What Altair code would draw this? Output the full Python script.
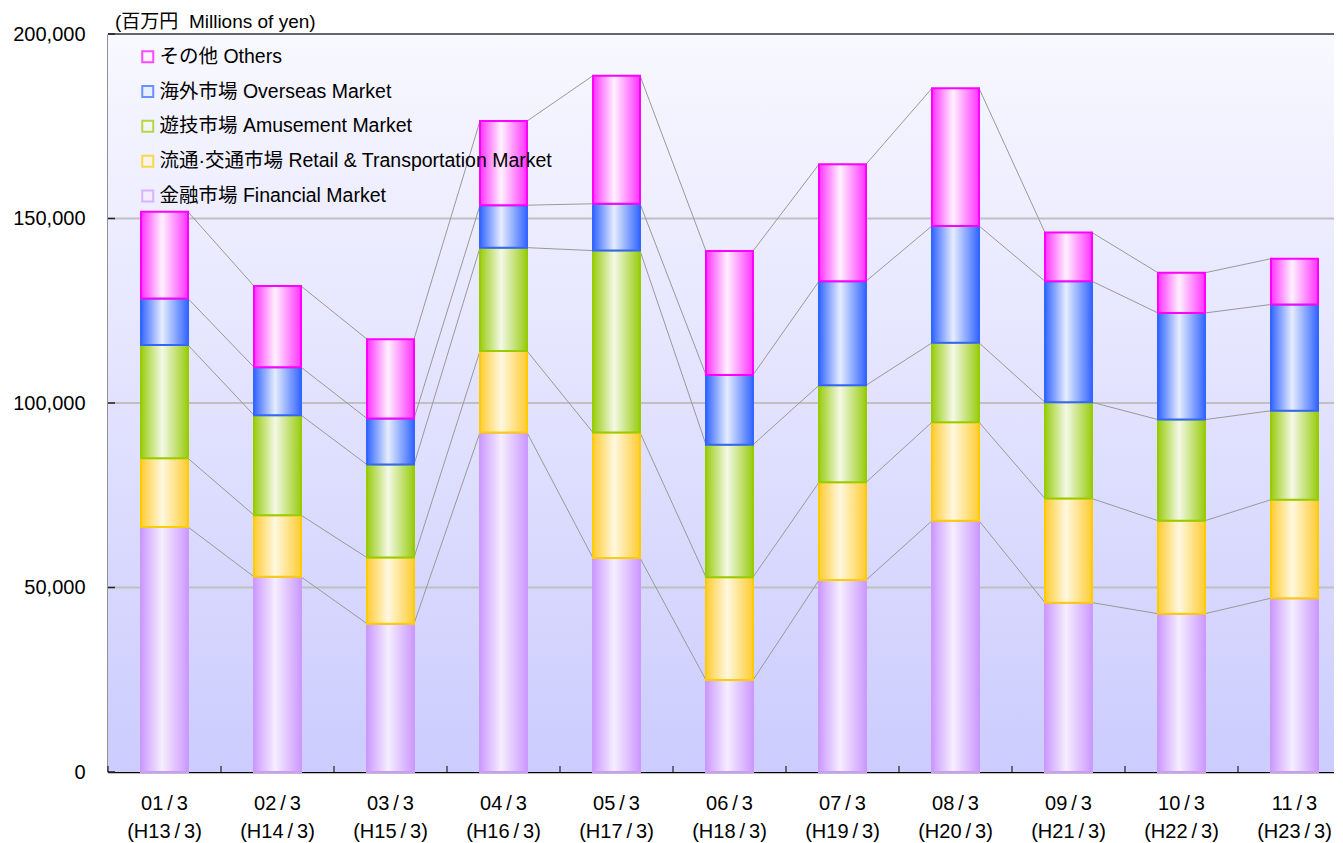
import altair as alt
import pandas as pd

TS = "\u2009/\u2009"
categories = [f"{a}{TS}3|(H{b}{TS}3)" for a, b in [
    ("01", 13), ("02", 14), ("03", 15), ("04", 16), ("05", 17), ("06", 18),
    ("07", 19), ("08", 20), ("09", 21), ("10", 22), ("11", 23)]]

# stack order: bottom -> top
series_names = ["金融市場 Financial Market",
                "流通·交通市場 Retail & Transportation Market",
                "遊技市場 Amusement Market",
                "海外市場 Overseas Market",
                "その他 Others"]

financial = [66400, 52900, 40200, 92000, 58000, 24900, 52000, 68100, 45900, 42900, 47100]
retail = [18600, 16700, 17900, 22100, 34000, 27900, 26500, 26700, 28200, 25200, 26700]
amusement = [30700, 27100, 25200, 28000, 49300, 35900, 26300, 21500, 26100, 27400, 24100]
overseas = [12600, 13000, 12500, 11500, 12700, 18900, 28200, 31700, 32800, 28900, 28800]
others = [23500, 22000, 21500, 22800, 34700, 33600, 31700, 37300, 13200, 10900, 12400]

edge_colors = ["#cc99ff", "#ffcc00", "#99cc00", "#3366ff", "#ff00ff"]
grad_edges = ["#cc99ff", "#ffcc33", "#99cc11", "#3366ff", "#ff33ff"]
light_colors = ["#f5eeff", "#fff8e0", "#f4f9e6", "#e6edff", "#fff2ff"]

y_ticks = [0, 50000, 100000, 150000, 200000]
grid_values = [50000, 100000, 150000]
frame_top = [200000]

all_values = [financial, retail, amusement, overseas, others]
rows = []
for s_i, (name, vals) in enumerate(zip(series_names, all_values)):
    for c_i, (cat, v) in enumerate(zip(categories, vals)):
        rows.append({"cat": cat, "idx": c_i, "series": name, "order": s_i, "value": v})
df = pd.DataFrame(rows)

W = 1226          # visible plot width (page clips the rest)
XR = 1243         # full x range (plot continues past the window edge)
H = 738
FONT = "Liberation Sans, Arial, Noto Sans CJK JP, sans-serif"
P_INNER = 0.584
STEP = XR / (len(categories) - P_INNER + 2 * (P_INNER / 2))
HALF_GAP = STEP * P_INNER / 2

xscale = alt.Scale(domain=categories, range=[0, XR], paddingInner=P_INNER, paddingOuter=P_INNER / 2)
yscale = alt.Scale(domain=[0, 200000], nice=False)

xaxis = alt.Axis(title=None, labelAngle=0, labelExpr="split(datum.label, '|')",
                 labelFontSize=20, labelLineHeight=28, labelFont=FONT, labelColor="#000",
                 ticks=False, domainColor="#000", domainWidth=1.5, labelPadding=21, grid=False)
yaxis = alt.Axis(title=None, values=y_ticks, format=",d", labelFontSize=20, labelFont=FONT,
                 labelColor="#000", ticks=False, labelPadding=23, domainColor="#222",
                 domainWidth=2, grid=False)

stacked = alt.Chart(df).transform_stack(
    stack="value", groupby=["cat"], as_=["y0", "y1"],
    sort=[alt.SortField("order", order="ascending")]
)

bg = alt.Chart(pd.DataFrame({"a": [0]})).mark_rect(
    fill={"gradient": "linear", "x1": 0, "y1": 0, "x2": 0, "y2": 1,
          "stops": [{"offset": 0, "color": "#f8f8ff"}, {"offset": 1, "color": "#ccccfe"}]}
).encode(x=alt.value(0), x2=alt.value(XR), y=alt.value(0), y2=alt.value(H))

grid = alt.Chart(pd.DataFrame({"g": grid_values})).mark_rule(
    color="#c0c0c0", strokeWidth=2
).encode(y=alt.Y("g:Q", scale=yscale, axis=yaxis), x=alt.value(0), x2=alt.value(XR))

top_line = alt.Chart(pd.DataFrame({"g": frame_top})).mark_rule(
    color="#333333", strokeWidth=1.5
).encode(y=alt.Y("g:Q", scale=yscale, axis=yaxis), x=alt.value(0), x2=alt.value(XR))

# inward y ticks
y_tick_marks = alt.Chart(pd.DataFrame({"t": y_ticks})).mark_rule(
    color="#222222", strokeWidth=1.5
).encode(y=alt.Y("t:Q", scale=yscale, axis=yaxis), x=alt.value(0), x2=alt.value(7))

# inward x ticks at category boundaries
x_tick_marks = alt.Chart(pd.DataFrame({"c": categories})).mark_rule(
    color="#000000", strokeWidth=1, xOffset=-HALF_GAP
).encode(x=alt.X("c:N", scale=xscale, axis=xaxis, bandPosition=0),
         y=alt.value(H), y2=alt.value(H - 6))

lines = stacked.transform_window(
    window=[{"op": "lead", "field": "y1", "param": 1, "as": "next_y1"},
            {"op": "lead", "field": "cat", "param": 1, "as": "next_cat"}],
    groupby=["series"], sort=[alt.SortField("idx", order="ascending")]
).transform_filter("datum.next_cat != null").mark_rule(
    color="#999999", strokeWidth=1
).encode(
    x=alt.X("cat:N", scale=xscale, axis=xaxis, bandPosition=1),
    x2=alt.X2("next_cat", bandPosition=0),
    y=alt.Y("y1:Q", scale=yscale, axis=yaxis),
    y2="next_y1:Q",
)

bar_layers = []
for s_i, name in enumerate(series_names):
    grad = {"gradient": "linear", "x1": 0, "y1": 0, "x2": 1, "y2": 0,
            "stops": [{"offset": 0, "color": grad_edges[s_i]},
                      {"offset": 0.45, "color": light_colors[s_i]},
                      {"offset": 1, "color": grad_edges[s_i]}]}
    layer = stacked.transform_filter(alt.datum.series == name).mark_bar(
        fill=grad, stroke=edge_colors[s_i], strokeWidth=2
    ).encode(
        x=alt.X("cat:N", scale=xscale, axis=xaxis),
        y=alt.Y("y0:Q", scale=yscale, axis=yaxis),
        y2="y1:Q",
    )
    bar_layers.append(layer)

legend_order = list(reversed(series_names))
legend_fill = list(reversed(light_colors))
legend_stroke = list(reversed(edge_colors))

legend = alt.Legend(title=None, orient="none", legendX=30, legendY=13, symbolType="square",
                    symbolSize=121, symbolStrokeWidth=2, labelFontSize=19.5, labelFont=FONT,
                    labelColor="#000", rowPadding=13.8, labelLimit=800, labelOffset=2,
                    direction="vertical")

legend_layer = alt.Chart(df).transform_filter("false").mark_square(size=121, filled=True).encode(
    fill=alt.Fill("series:N", scale=alt.Scale(domain=legend_order, range=legend_fill), legend=legend),
    stroke=alt.Stroke("series:N", scale=alt.Scale(domain=legend_order, range=legend_stroke), legend=legend),
)

chart = alt.layer(bg, grid, lines, *bar_layers, top_line, y_tick_marks, x_tick_marks,
                  legend_layer).properties(
    width=W, height=H,
    autosize=alt.AutoSizeParams(type="none"),
    padding={"left": 100, "top": 26, "right": 0, "bottom": 72},
    title=alt.TitleParams(text="(百万円 \u00a0Millions of yen)", anchor="start", frame="group",
                          fontSize=19, font=FONT, fontWeight="normal", color="#000",
                          dx=7, offset=-8),
).configure_view(stroke=None).configure(background="white")

chart.save("out.html", embed_options={"renderer": "svg", "actions": False})
